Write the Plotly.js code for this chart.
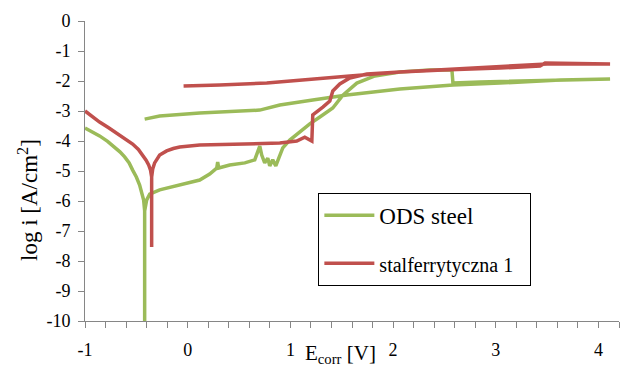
<!DOCTYPE html>
<html>
<head>
<meta charset="utf-8">
<script src="https://cdn.plot.ly/plotly-3.0.1.min.js"></script>
<style>html,body{margin:0;padding:0;background:#fff;}#chart{width:629px;height:368px;}</style>
</head>
<body>
<div id="chart"></div>
<script>
// ODS steel (forward scan, then reverse scan)
const odsE = [-1.0, -0.93, -0.858, -0.78, -0.712, -0.66, -0.614, -0.57, -0.536, -0.50, -0.468, -0.445, -0.429, -0.419, -0.419, -0.419, -0.400, -0.370, -0.273, -0.127, 0.0, 0.117, 0.214, 0.283, 0.292, 0.302, 0.409, 0.556, 0.653, 0.682, 0.702, 0.721, 0.750, 0.780, 0.799, 0.828, 0.858, 0.887, 0.926, 0.994, 1.092, 1.189, 1.287, 1.413, 1.511, 1.647, 1.823, 2.066, 2.359, 2.573, 2.583, 2.846, 3.236, 3.626, 4.113,
  3.626, 3.041, 2.583, 2.066, 1.550, 1.218, 0.897, 0.702, 0.117, -0.273, -0.419];
const odsLogI = [-3.57, -3.69, -3.83, -4.01, -4.2, -4.36, -4.53, -4.73, -4.97, -5.2, -5.47, -5.72, -5.97, -6.33, -10.0, -6.33, -5.97, -5.77, -5.63, -5.5, -5.4, -5.3, -5.1, -4.9, -4.7, -4.9, -4.8, -4.73, -4.63, -4.3, -4.17, -4.47, -4.73, -4.57, -4.83, -4.63, -4.83, -4.57, -4.23, -3.97, -3.7, -3.43, -3.2, -2.9, -2.47, -2.07, -1.83, -1.7, -1.63, -1.63, -2.07, -2.03, -2.0, -1.97, -1.93,
  -1.97, -2.07, -2.13, -2.27, -2.47, -2.63, -2.8, -2.97, -3.07, -3.17, -3.27];

// stal ferrytyczna 1 (forward scan, then reverse scan)
const ferE = [-1.0, -0.93, -0.858, -0.77, -0.692, -0.61, -0.536, -0.48, -0.439, -0.405, -0.380, -0.362, -0.351, -0.351, -0.351, -0.340, -0.322, -0.273, -0.205, -0.14, -0.078, 0.117, 0.604, 0.897, 1.062, 1.140, 1.209, 1.218, 1.316, 1.384, 1.413, 1.481, 1.579, 1.745, 2.066, 2.485, 3.041, 3.431, 3.480, 4.016, 4.113,
  3.499, 2.554, 2.066, 1.579, 1.092, 0.770, 0.312, -0.04];
const ferLogI = [-3.0, -3.2, -3.37, -3.56, -3.73, -3.92, -4.1, -4.28, -4.47, -4.64, -4.8, -4.97, -5.2, -7.53, -5.2, -4.92, -4.73, -4.47, -4.33, -4.25, -4.2, -4.13, -4.1, -4.07, -4.0, -3.87, -4.0, -3.13, -2.87, -2.67, -2.33, -2.1, -1.9, -1.77, -1.7, -1.63, -1.57, -1.5, -1.4, -1.43, -1.43,
  -1.43, -1.6, -1.7, -1.83, -1.97, -2.07, -2.13, -2.17];

const seriesNames = ['ODS steel', 'stalferrytyczna 1'];
const xTickVals = [-1, 0, 1, 2, 3, 4];
const yTickVals = [-10, -9, -8, -7, -6, -5, -4, -3, -2, -1, 0];

const serif = 'Liberation Serif';
const nb = '\u00a0';

const traces = [
  {x: odsE, y: odsLogI, type: 'scatter', mode: 'lines', name: seriesNames[0],
   legendgroup: 'a', line: {color: '#9BBB59', width: 3.5}},
  {x: ferE, y: ferLogI, type: 'scatter', mode: 'lines',
   name: '<span style="font-size:20px">' + seriesNames[1] + '</span>' + nb.repeat(2),
   legendgroup: 'b', line: {color: '#C0504D', width: 3.5}}
];

const layout = {
  width: 629, height: 368,
  margin: {l: 85, r: 10, t: 21, b: 47},
  paper_bgcolor: '#fff', plot_bgcolor: '#fff',
  font: {family: serif, size: 17, color: '#000'},
  showlegend: true,
  legend: {x: 0.437, y: 0.427, xanchor: 'left', yanchor: 'top',
           bordercolor: '#000', borderwidth: 1, bgcolor: '#fff',
           font: {family: serif, size: 23, color: '#000'},
           itemwidth: 50,
           traceorder: 'grouped', tracegroupgap: 15},
  xaxis: {range: [-1, 4.2], tickvals: xTickVals, ticktext: xTickVals.map(String),
          showgrid: false, zeroline: false, showline: true, linecolor: '#868686', linewidth: 1,
          ticks: 'outside', ticklen: 6, tickcolor: '#868686', ticklabelstandoff: 6,
          minor: {dtick: 0.2, tick0: 0, ticks: 'outside', ticklen: 6, tickcolor: '#868686', showgrid: false},
          tickfont: {family: serif, size: 18, color: '#000'}},
  yaxis: {range: [-10, 0], tickvals: yTickVals, ticktext: yTickVals.map(String),
          showgrid: false, zeroline: false, showline: true, linecolor: '#868686', linewidth: 1,
          ticks: 'outside', ticklen: 6, tickcolor: '#868686', ticklabelstandoff: 4,
          tickfont: {family: serif, size: 18, color: '#000'}},
  annotations: [
    {text: 'E<sub>corr</sub> [V]', xref: 'paper', yref: 'paper', x: 0.478, y: -0.11,
     xanchor: 'center', yanchor: 'middle', showarrow: false,
     font: {family: serif, size: 21, color: '#000'}},
    {text: 'log i [A/cm<sup>2</sup>]', xref: 'paper', yref: 'paper', x: -0.107, y: 0.403,
     xanchor: 'center', yanchor: 'middle', textangle: -90, showarrow: false,
     font: {family: serif, size: 23, color: '#000'}}
  ]
};

Plotly.newPlot('chart', traces, layout, {displayModeBar: false, staticPlot: true});
</script>
</body>
</html>
